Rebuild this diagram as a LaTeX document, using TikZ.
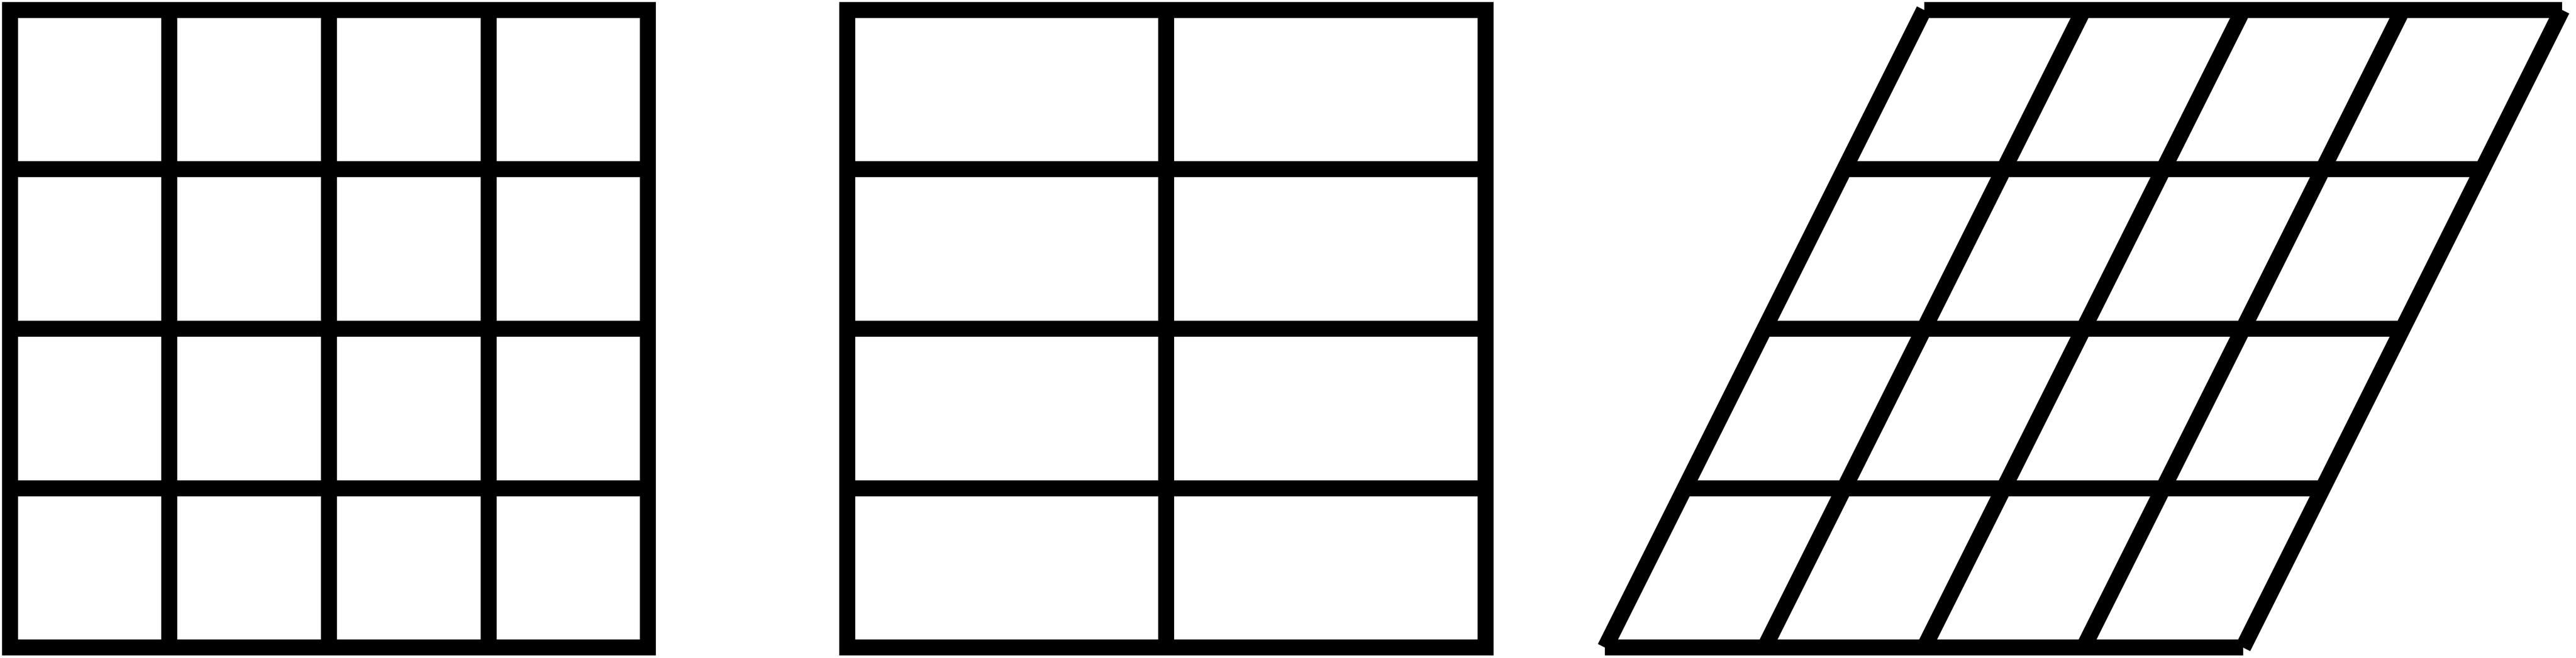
\documentclass[tikz,border=0pt]{standalone}
\usepackage{tikz}

\begin{document}
\begin{tikzpicture}[gridline/.style={draw=black, line width=0.4cm}]
    \useasboundingbox (-0.25,-0.25) rectangle (64.35,16.25);
    % square grid
    \draw[gridline] (0,0) rectangle (16,16);
    \foreach \i in {4,8,12} {
        \draw[gridline] (\i,0) -- (\i,16);
        \draw[gridline] (0,\i) -- (16,\i);
    }
    % two columns
    \draw[gridline] (21,0) rectangle (37,16);
    \draw[gridline] (29,0) -- (29,16);
    \foreach \i in {4,8,12}
        \draw[gridline] (21,\i) -- (37,\i);
    % slanted grid
    \foreach \i in {0,4,...,16} {
        \draw[gridline] (40+\i,0) -- (48+\i,16);
        \draw[gridline] (40+\i/2,\i) -- (56+\i/2,\i);
    }
\end{tikzpicture}
\end{document}
